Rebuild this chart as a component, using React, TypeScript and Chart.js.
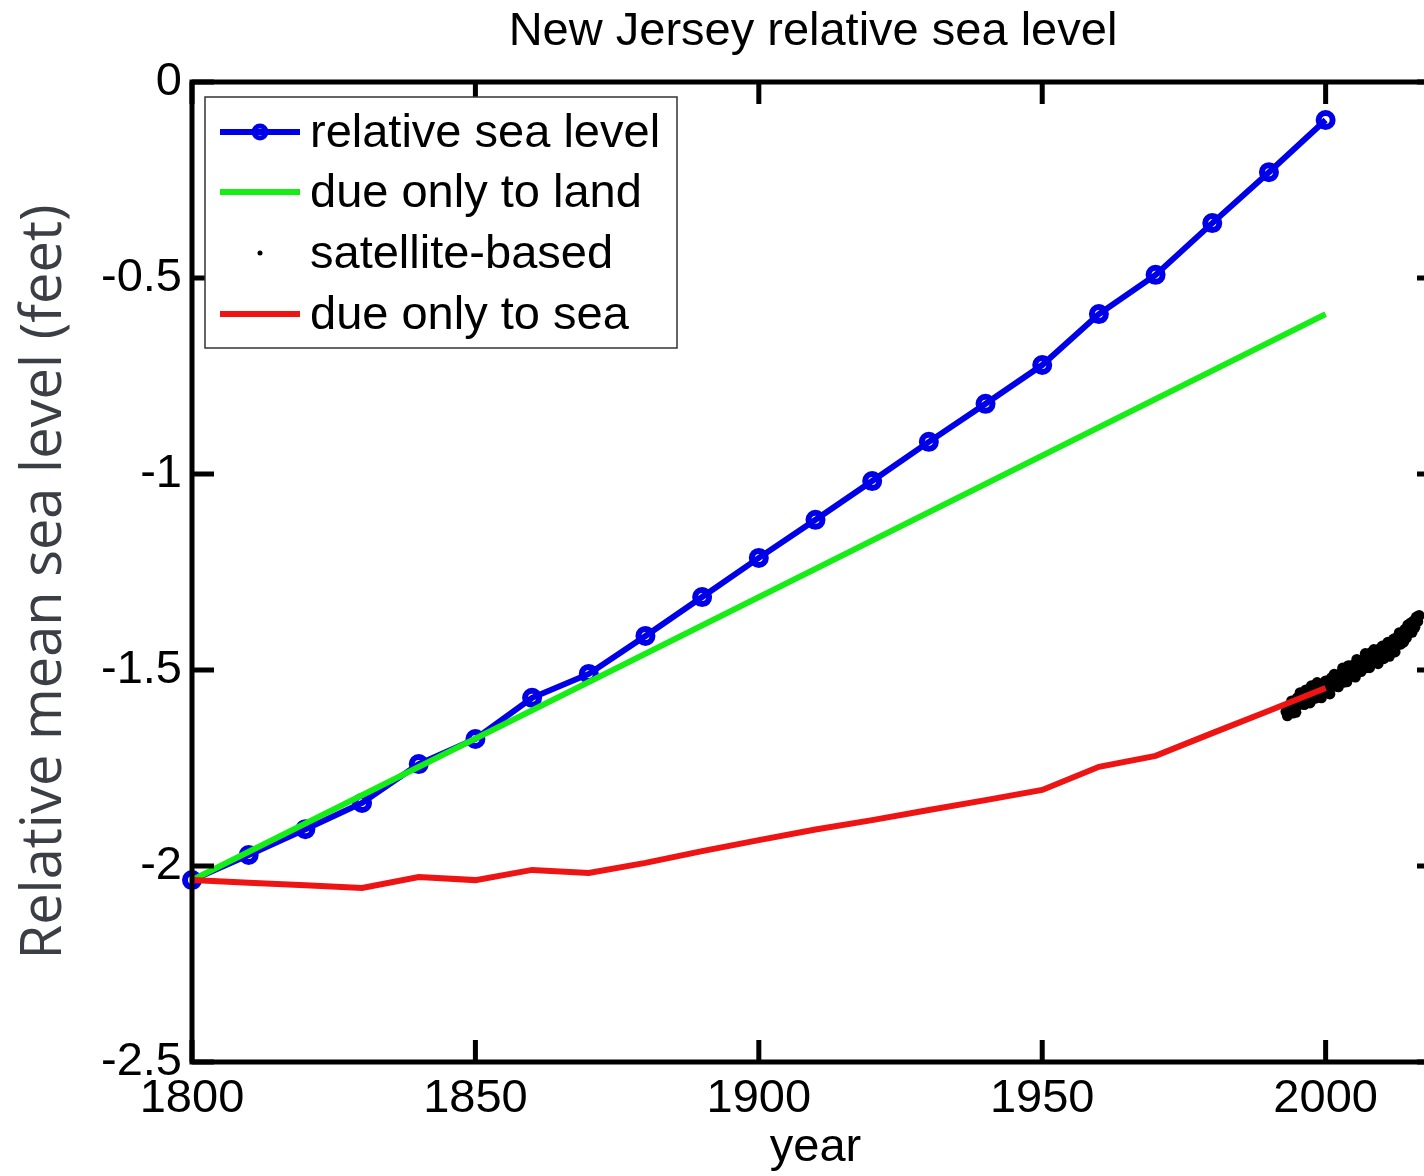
import React, { useEffect, useRef } from "react";
import { Chart, registerables } from "chart.js";

Chart.register(...registerables);

// ---------- data ----------
const years = [1800, 1810, 1820, 1830, 1840, 1850, 1860, 1870, 1880, 1890, 1900, 1910, 1920, 1930, 1940, 1950, 1960, 1970, 1980, 1990, 2000];
const relativeSeaLevel = [-2.036, -1.972, -1.906, -1.839, -1.74, -1.676, -1.571, -1.51, -1.413, -1.314, -1.214, -1.117, -1.018, -0.918, -0.821, -0.722, -0.592, -0.492, -0.36, -0.23, -0.097];
const seaOnly = [-2.036, -2.043, -2.049, -2.056, -2.028, -2.036, -2.01, -2.018, -1.992, -1.962, -1.934, -1.907, -1.883, -1.857, -1.832, -1.806, -1.747, -1.719, -1.661, -1.604, -1.546];
const landYears = [1800, 2000];
const landOnly = [-2.036, -0.592];
const satYears = [
  1993.0, 1993.25, 1993.5, 1993.75, 1994.0, 1994.25, 1994.5, 1994.75, 1995.0, 1995.25, 1995.5, 1995.75,
  1996.0, 1996.25, 1996.5, 1996.75, 1997.0, 1997.25, 1997.5, 1997.75, 1998.0, 1998.25, 1998.5, 1998.75,
  1999.0, 1999.25, 1999.5, 1999.75, 2000.0, 2000.25, 2000.5, 2000.75, 2001.0, 2001.25, 2001.5, 2001.75,
  2002.0, 2002.25, 2002.5, 2002.75, 2003.0, 2003.25, 2003.5, 2003.75, 2004.0, 2004.25, 2004.5, 2004.75,
  2005.0, 2005.25, 2005.5, 2005.75, 2006.0, 2006.25, 2006.5, 2006.75, 2007.0, 2007.25, 2007.5, 2007.75,
  2008.0, 2008.25, 2008.5, 2008.75, 2009.0, 2009.25, 2009.5, 2009.75, 2010.0, 2010.25, 2010.5, 2010.75,
  2011.0, 2011.25, 2011.5, 2011.75, 2012.0, 2012.25, 2012.5, 2012.75, 2013.0, 2013.25, 2013.5, 2013.75,
  2014.0, 2014.25, 2014.5, 2014.75, 2015.0, 2015.25, 2015.5, 2015.75, 2016.0, 2016.25, 2016.5,
];
const satValues = [
  -1.606, -1.617, -1.591, -1.604, -1.579, -1.61, -1.585, -1.608, -1.571, -1.588, -1.558, -1.587,
  -1.57, -1.588, -1.551, -1.573, -1.553, -1.584, -1.54, -1.561, -1.545, -1.572, -1.532, -1.563,
  -1.546, -1.571, -1.535, -1.552, -1.528, -1.558, -1.533, -1.561, -1.52, -1.54, -1.511, -1.541,
  -1.523, -1.543, -1.51, -1.53, -1.495, -1.531, -1.506, -1.53, -1.489, -1.509, -1.489, -1.515,
  -1.488, -1.518, -1.473, -1.499, -1.476, -1.504, -1.48, -1.494, -1.458, -1.494, -1.468, -1.494,
  -1.456, -1.476, -1.448, -1.48, -1.462, -1.484, -1.446, -1.469, -1.439, -1.471, -1.443, -1.455,
  -1.429, -1.465, -1.439, -1.453, -1.421, -1.454, -1.418, -1.435, -1.405, -1.434, -1.412, -1.429,
  -1.396, -1.418, -1.385, -1.405, -1.38, -1.404, -1.375, -1.391, -1.365, -1.376, -1.361,
];
const xTicks = [1800, 1850, 1900, 1950, 2000];
const yTicks = [-2.5, -2, -1.5, -1, -0.5, 0];

const TITLE = "New Jersey relative sea level";
const Y_TITLE = "Relative mean sea level (feet)";
const X_TITLE = "year";

const BLUE = "#0000e8";
const GREEN = "#14ee14";
const RED = "#ee1414";
const FONT = "'Liberation Sans', Arial, sans-serif";

const pairs = (xs: number[], ys: number[]) => xs.map((x, i) => ({ x, y: ys[i] }));

const decorPlugin = {
  id: "decor",
  afterDatasetsDraw(chart: any) {
    const { ctx, chartArea: a, scales } = chart;
    const xs = scales.x;
    const ys = scales.y;
    ctx.save();
    // frame
    ctx.strokeStyle = "#000";
    ctx.lineWidth = 5;
    ctx.strokeRect(a.left, a.top, a.right - a.left, a.bottom - a.top);
    const tl = 22;
    ctx.beginPath();
    xs.ticks.forEach((t: any) => {
      const px = xs.getPixelForValue(t.value);
      ctx.moveTo(px, a.bottom);
      ctx.lineTo(px, a.bottom - tl);
      ctx.moveTo(px, a.top);
      ctx.lineTo(px, a.top + tl);
    });
    ys.ticks.forEach((t: any) => {
      const py = ys.getPixelForValue(t.value);
      ctx.moveTo(a.left, py);
      ctx.lineTo(a.left + tl, py);
      ctx.moveTo(a.right, py);
      ctx.lineTo(a.right - tl, py);
    });
    ctx.stroke();

    // legend
    const lx = a.left + 13;
    const ly = a.top + 15;
    const lw = 472;
    const lh = 251;
    ctx.fillStyle = "#fff";
    ctx.fillRect(lx, ly, lw, lh);
    ctx.strokeStyle = "#333";
    ctx.lineWidth = 1.5;
    ctx.strokeRect(lx, ly, lw, lh);
    const rows = [50, 110, 171, 232];
    ctx.font = `47px ${FONT}`;
    ctx.textBaseline = "middle";
    ctx.textAlign = "left";
    chart.data.datasets.forEach((ds: any, i: number) => {
      const cy = a.top + rows[i];
      const sx0 = a.left + 28;
      const sx1 = a.left + 108;
      const mx = (sx0 + sx1) / 2;
      if (ds.showLine !== false) {
        ctx.strokeStyle = ds.borderColor;
        ctx.lineWidth = 6;
        ctx.beginPath();
        ctx.moveTo(sx0, cy);
        ctx.lineTo(sx1, cy);
        ctx.stroke();
      }
      if (ds.pointRadius > 0) {
        if (ds.showLine === false) {
          ctx.fillStyle = ds.pointBackgroundColor;
          ctx.beginPath();
          ctx.arc(mx, cy, 2.5, 0, Math.PI * 2);
          ctx.fill();
        } else {
          ctx.strokeStyle = ds.pointBorderColor;
          ctx.lineWidth = 5;
          ctx.beginPath();
          ctx.arc(mx, cy, 6, 0, Math.PI * 2);
          ctx.stroke();
        }
      }
      ctx.fillStyle = "#000";
      ctx.fillText(ds.label, a.left + 118, cy + 2);
    });
    ctx.restore();
  },
  afterDraw(chart: any) {
    const { ctx, chartArea: a } = chart;
    ctx.save();
    ctx.fillStyle = "#000";
    ctx.font = `47px ${FONT}`;
    ctx.textAlign = "center";
    ctx.textBaseline = "alphabetic";
    ctx.fillText(TITLE, 813, 45);
    // y title
    ctx.translate(61, (a.top + a.bottom) / 2 + 10);
    ctx.rotate(-Math.PI / 2);
    ctx.fillStyle = "#3b3f45";
    ctx.font = `56px 'Open Sans', 'Noto Sans', sans-serif`;
    ctx.fillText(Y_TITLE, 0, 0);
    ctx.restore();
  },
};

export default function App() {
  const ref = useRef<HTMLCanvasElement | null>(null);
  useEffect(() => {
    if (!ref.current) return;
    const chart = new Chart(ref.current, {
      type: "line",
      data: {
        datasets: [
          {
            label: "relative sea level",
            data: pairs(years, relativeSeaLevel),
            borderColor: BLUE,
            borderWidth: 6,
            pointRadius: 7,
            pointBorderWidth: 6,
            pointBorderColor: BLUE,
            pointBackgroundColor: "rgba(255,255,255,0)",
            tension: 0,
            order: 4,
            clip: 20,
          } as any,
          {
            label: "due only to land",
            data: pairs(landYears, landOnly),
            borderColor: GREEN,
            borderWidth: 6,
            pointRadius: 0,
            tension: 0,
            order: 3,
          },
          {
            label: "satellite-based",
            data: pairs(satYears, satValues),
            showLine: false,
            borderColor: "#000",
            pointRadius: 5.5,
            pointBorderWidth: 0,
            pointBackgroundColor: "#000",
            order: 2,
          },
          {
            label: "due only to sea",
            data: pairs(years, seaOnly),
            borderColor: RED,
            borderWidth: 6,
            pointRadius: 0,
            tension: 0,
            order: 1,
          },
        ],
      },
      options: {
        animation: false,
        responsive: false,
        devicePixelRatio: 1,
        layout: { padding: { top: 82, left: 0, right: 5, bottom: 0 } },
        plugins: { legend: { display: false }, tooltip: { enabled: false }, title: { display: false } },
        scales: {
          x: {
            type: "linear",
            min: 1800,
            max: 2020,
            ticks: {
              padding: 9,
              color: "#000",
              font: { family: FONT, size: 47 },
              callback: (v: any) => String(v),
              maxRotation: 0,
              autoSkip: false,
            },
            afterBuildTicks: (s: any) => {
              s.ticks = xTicks.map((v) => ({ value: v }));
            },
            afterFit: (s: any) => {
              s.height = 114;
              s.paddingLeft = 0;
              s.paddingRight = 0;
            },
            grid: { display: false, drawTicks: false },
            border: { display: false },
            title: { display: true, text: X_TITLE, color: "#000", font: { family: FONT, size: 47 }, padding: { top: 0, bottom: 0 } },
          },
          y: {
            type: "linear",
            min: -2.5,
            max: 0,
            ticks: {
              padding: 10,
              color: "#000",
              font: { family: FONT, size: 47 },
              callback: (v: any) => String(Math.round(v * 10) / 10),
              autoSkip: false,
            },
            afterBuildTicks: (s: any) => {
              s.ticks = yTicks.map((v) => ({ value: v }));
            },
            afterFit: (s: any) => {
              s.width = 192;
              s.paddingTop = 0;
              s.paddingBottom = 0;
            },
            grid: { display: false, drawTicks: false },
            border: { display: false },
          },
        },
      },
      plugins: [decorPlugin],
    });
    return () => chart.destroy();
  }, []);
  return (
    <div style={{ position: "fixed", left: 0, top: 0, width: 1424, height: 1176, overflow: "hidden", background: "#fff" }}>
      <canvas ref={ref} width={1452} height={1176} style={{ width: 1452, height: 1176, display: "block" }} />
    </div>
  );
}
